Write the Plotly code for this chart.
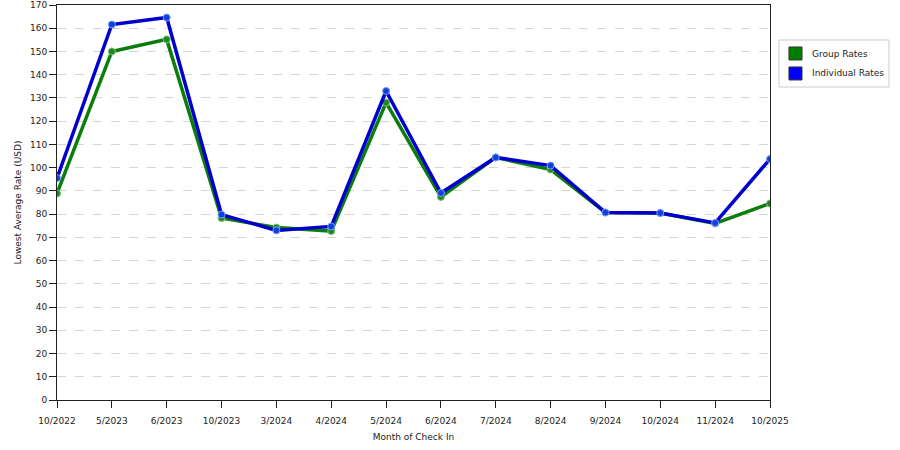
import plotly.graph_objects as go

months = ["10/2022", "5/2023", "6/2023", "10/2023", "3/2024", "4/2024", "5/2024",
          "6/2024", "7/2024", "8/2024", "9/2024", "10/2024", "11/2024", "10/2025"]
group_rates = [88.9, 150.0, 155.2, 78.3, 74.2, 72.7, 128.0, 87.4, 104.4, 99.2, 80.7, 80.5, 76.0, 84.6]
individual_rates = [95.5, 161.6, 164.6, 79.8, 73.0, 74.7, 133.0, 89.1, 104.4, 100.9, 80.7, 80.5, 76.2, 103.7]
series_names = ["Group Rates", "Individual Rates"]

line_colors = ["#0b7d0b", "#0000cc"]
marker_colors = ["#1e8a1e", "#1040dd"]
marker_edges = ["#7fbf7f", "#7f9fff"]
swatch_colors = ["#008000", "#0000ff"]

fig = go.Figure()

for i, vals in enumerate([group_rates, individual_rates]):
    fig.add_trace(go.Scatter(
        x=months, y=vals, mode="lines+markers", name=series_names[i], showlegend=False,
        line=dict(color=line_colors[i], width=3.5),
        marker=dict(color=marker_colors[i], size=7, line=dict(color=marker_edges[i], width=1))
    ))

# legend box drawn by hand so it matches the square-swatch style
shapes = [dict(type="rect", xref="paper", yref="paper",
               x0=1.0126, x1=1.1669, y0=0.7924, y1=0.9114,
               line=dict(color="#cccccc", width=1), fillcolor="white")]
annotations = []
for i, name in enumerate(series_names):
    top = 0.8937 - i * 0.0506
    shapes.append(dict(type="rect", xref="paper", yref="paper",
                       x0=1.0266, x1=1.0449, y0=top - 0.0329, y1=top,
                       line=dict(color="#333333", width=1), fillcolor=swatch_colors[i]))
    annotations.append(dict(text=name, xref="paper", yref="paper",
                            x=1.0561, y=top - 0.0165, xanchor="left", yanchor="middle",
                            showarrow=False, font=dict(size=9, color="#222")))

fig.update_layout(
    width=900, height=450,
    margin=dict(l=57, r=130, t=5, b=50),
    paper_bgcolor="white", plot_bgcolor="white",
    font=dict(family="DejaVu Sans", size=9, color="#222"),
    showlegend=False,
    shapes=shapes, annotations=annotations,
)

fig.update_xaxes(
    type="category", range=[0, len(months) - 1], automargin=False,
    showline=True, linecolor="#222", linewidth=1, mirror=True,
    ticks="outside", ticklen=7, tickcolor="#222", ticklabelstandoff=5,
    showgrid=False, zeroline=False,
    title=dict(text="Month of Check In", font=dict(size=9), standoff=8),
)
fig.update_yaxes(
    range=[0, 170], dtick=10, automargin=False,
    showline=True, linecolor="#222", linewidth=1, mirror=True,
    ticks="outside", ticklen=7, tickcolor="#222",
    showgrid=True, gridcolor="#d5d5d5", griddash="dash", gridwidth=1,
    zeroline=False,
    title=dict(text="Lowest Average Rate (USD)", font=dict(size=9), standoff=6),
)

# drop the browser's default page margin so the chart sits at the window corner
fig.write_html("out.html", config={"displayModeBar": False},
               post_script="document.body.style.margin='0';")
